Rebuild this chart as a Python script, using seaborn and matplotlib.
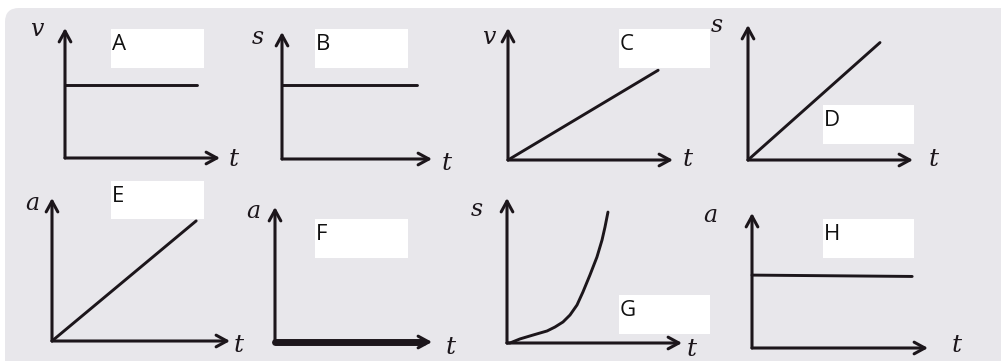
import matplotlib
matplotlib.use("Agg")
import matplotlib.pyplot as plt
from matplotlib.patches import FancyBboxPatch, Rectangle
import seaborn as sns
import pandas as pd

sns.set_theme(style="white")
plt.rcParams['font.family'] = ['Open Sans', 'DejaVu Sans']

W, H = 1001, 361
INK = "#1c161b"
BG = "#e8e7eb"

# ---- data (fractions of each panel's axis length) ----
letters = ["A", "B", "C", "D", "E", "F", "G", "H"]
y_names = ["v", "s", "v", "s", "a", "a", "s", "a"]
x_name = "t"

A_t = [0.0, 0.85];  A_v = [0.56, 0.56]
B_t = [0.0, 0.90];  B_s = [0.58, 0.58]
C_t = [0.0, 0.91];  C_v = [0.0, 0.68]
D_t = [0.0, 0.80];  D_s = [0.0, 0.87]
E_t = [0.0, 0.81];  E_a = [0.0, 0.84]
F_t = [0.0, 0.94];  F_a = [0.0, 0.0]
G_t = [0.0, 0.017, 0.074, 0.149, 0.229, 0.274, 0.32, 0.36, 0.40, 0.434,
       0.474, 0.514, 0.543, 0.56, 0.577]
G_s = [0.0, 0.0, 0.028, 0.055, 0.083, 0.11, 0.145, 0.193, 0.262, 0.352,
       0.469, 0.593, 0.71, 0.80, 0.903]
H_t = [0.0, 0.91];  H_a = [0.54, 0.53]

series = [(A_t, A_v), (B_t, B_s), (C_t, C_v), (D_t, D_s),
          (E_t, E_a), (F_t, F_a), (G_t, G_s), (H_t, H_a)]

# ---- layout (pixels) ----
origins = [(65, 158), (282, 159), (508, 160), (748, 160),
           (52, 341), (275, 342), (507, 343), (752, 348)]
sizes = [(155, 130), (150, 127), (165, 132), (165, 135),
         (178, 143), (157, 135), (175, 145), (176, 135)]
ylab_pos = [(37, 30), (258, 38), (489, 38), (717, 25),
            (32, 203), (253, 211), (477, 209), (710, 216)]
tlab_pos = [(234, 160), (447, 164), (688, 160), (934, 160),
            (239, 346), (451, 347), (692, 349), (957, 346)]
boxes = [(111, 29, 93, 39), (315, 29, 93, 39), (619, 29, 91, 39), (823, 105, 91, 39),
         (111, 181, 93, 38), (315, 219, 93, 39), (619, 295, 91, 39), (823, 219, 91, 39)]

fig = plt.figure(figsize=(W / 100, H / 100), dpi=100)
fig.patch.set_facecolor("white")

bg = fig.add_axes([0, 0, 1, 1])
bg.set_xlim(0, W)
bg.set_ylim(H, 0)
bg.axis("off")
bg.add_patch(FancyBboxPatch((5, 8), W + 40, H + 40,
                            boxstyle="round,pad=0,rounding_size=14",
                            facecolor=BG, edgecolor="none"))

hand = dict(family=["DejaVu Serif"], style="italic", color=INK)

for i in range(8):
    (ox, oy), (w, h) = origins[i], sizes[i]
    ax = fig.add_axes([ox / W, 1 - oy / H, w / W, h / H])
    ax.set_xlim(0, 1)
    ax.set_ylim(0, 1)
    ax.axis("off")
    ax.patch.set_alpha(0)
    arrow = dict(arrowstyle="->,head_length=0.55,head_width=0.3",
                 color=INK, lw=2.2, shrinkA=0, shrinkB=0, mutation_scale=14)
    ax.annotate("", xy=(1, 0), xytext=(0, 0), xycoords="axes fraction",
                arrowprops=arrow, annotation_clip=False)
    ax.annotate("", xy=(0, 1), xytext=(0, 0), xycoords="axes fraction",
                arrowprops=arrow, annotation_clip=False)
    tt, yy = series[i]
    df = pd.DataFrame({"t": tt, "y": yy})
    lw = 5.0 if letters[i] == "F" else 2.1
    sns.lineplot(data=df, x="t", y="y", ax=ax, color=INK, lw=lw,
                 sort=False, estimator=None, clip_on=False)

    # hand-written axis letters
    lx, ly = ylab_pos[i]
    bg.text(lx, ly, y_names[i], fontsize=17, ha="center", va="center", **hand)
    tx, ty = tlab_pos[i]
    bg.text(tx, ty, x_name, fontsize=18, ha="center", va="center", **hand)

    # white label boxes
    bx, by, bw, bh = boxes[i]
    bg.add_patch(Rectangle((bx, by), bw, bh, facecolor="white", edgecolor="none", zorder=5))
    bg.text(bx + 1, by + 16, letters[i], fontsize=16, ha="left", va="center",
            color="#111111", zorder=6)

fig.savefig("out.png", dpi=100, facecolor=fig.get_facecolor())
